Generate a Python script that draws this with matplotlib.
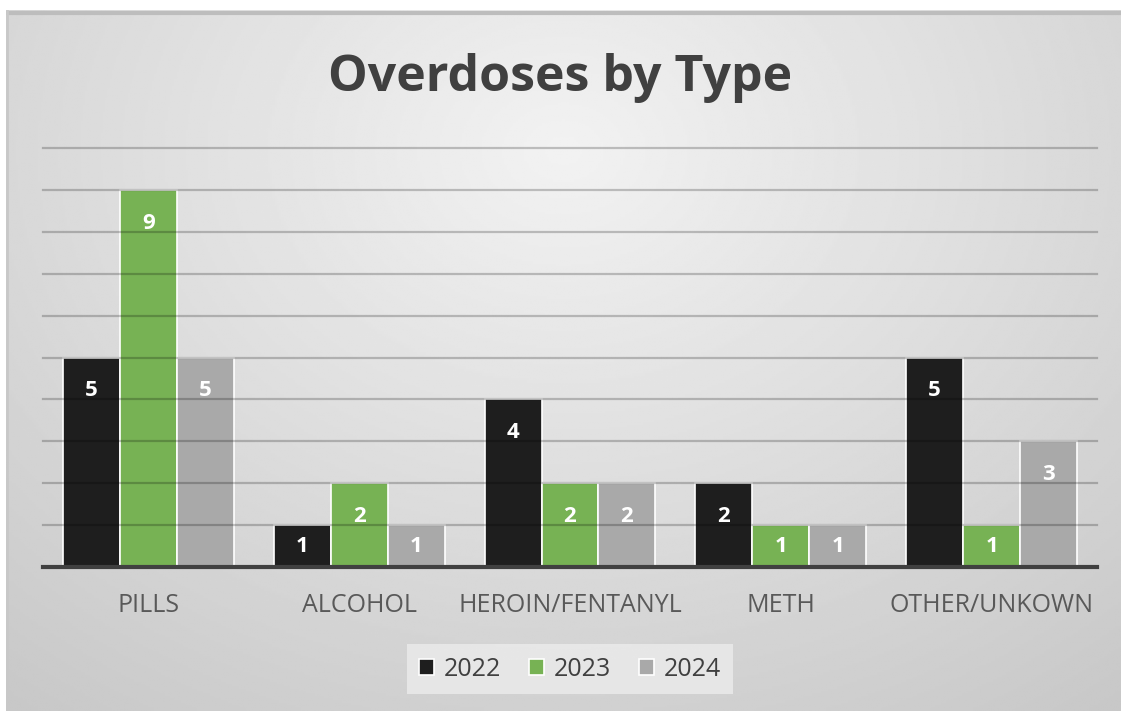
import numpy as np
import matplotlib.pyplot as plt

plt.rcParams['font.family'] = ['Open Sans', 'DejaVu Sans']

categories = ['PILLS', 'ALCOHOL', 'HEROIN/FENTANYL', 'METH', 'OTHER/UNKOWN']
years = ['2022', '2023', '2024']
counts_2022 = [5, 1, 4, 2, 5]
counts_2023 = [9, 2, 2, 1, 1]
counts_2024 = [5, 1, 2, 1, 3]
series = [counts_2022, counts_2023, counts_2024]
colors = ['#1e1e1e', '#77b254', '#a9a9a9']

fig = plt.figure(figsize=(11.21, 7.11), dpi=100)
fig.patch.set_facecolor('white')

# radial grey gradient behind everything, like the Excel chart area
bg = fig.add_axes([6 / 1121, 0, 1 - 6 / 1121, 1 - 10 / 711], zorder=-10)
yy, xx = np.mgrid[0:1:300j, 0:1:500j]
r = np.sqrt(((xx - 0.5) / 0.8) ** 2 + ((yy - 0.2) / 1.0) ** 2)
shade = np.clip(242 - 42 * r, 198, 242) / 255
bg.imshow(shade, cmap='gray', vmin=0, vmax=1, extent=[0, 1, 0, 1], origin='upper', aspect='auto')
bg.plot([0, 1], [0.996, 0.996], color='#bdbdbd', lw=3, transform=bg.transAxes)
bg.plot([0.001, 0.001], [0, 1], color='#c8c8c8', lw=2, transform=bg.transAxes)
bg.set_xlim(0, 1)
bg.set_ylim(0, 1)
bg.set_axis_off()

ax = fig.add_axes([43 / 1121, 1 - 567 / 711, 1054 / 1121, 419 / 711])
ax.patch.set_alpha(0)

x = np.arange(len(categories))
width = 0.27
for i, (vals, c, yr) in enumerate(zip(series, colors, years)):
    pos = x + (i - 1) * width
    ax.bar(pos, vals, width, color=c, edgecolor='white', linewidth=1.2, label=yr, zorder=2)
    for px, v in zip(pos, vals):
        ylab = v - min(0.79, v / 2)
        ax.text(px, ylab, str(v), ha='center', va='center', color='white',
                fontsize=16, fontweight='bold', zorder=4)

for g in range(1, 11):
    ax.axhline(g, color='black', alpha=0.22, lw=1.6, zorder=3, clip_on=False)
ax.axhline(0, color='#404040', lw=3, zorder=5, clip_on=False)

ax.set_xlim(-0.5, len(categories) - 0.5)
ax.set_ylim(0, 10)
ax.set_yticks([])
ax.set_xticks(x)
ax.set_xticklabels(categories, fontsize=18, color='#595959')
ax.tick_params(axis='x', length=0, pad=19)
for s in ax.spines.values():
    s.set_visible(False)

fig.text(0.5, 1 - 78 / 711, 'Overdoses by Type', ha='center', va='center',
         fontsize=36, fontweight='bold', color='#404040')

leg = fig.legend(loc='center', bbox_to_anchor=(570 / 1121, 1 - 669 / 711), ncol=3,
                 fontsize=18, frameon=True, facecolor='#ececec', edgecolor='none',
                 framealpha=0.8, fancybox=False, handlelength=0.6, handleheight=0.6,
                 handletextpad=0.4, columnspacing=1.1, borderpad=0.5)
for t in leg.get_texts():
    t.set_color('#404040')

fig.savefig('out.png', dpi=100)
